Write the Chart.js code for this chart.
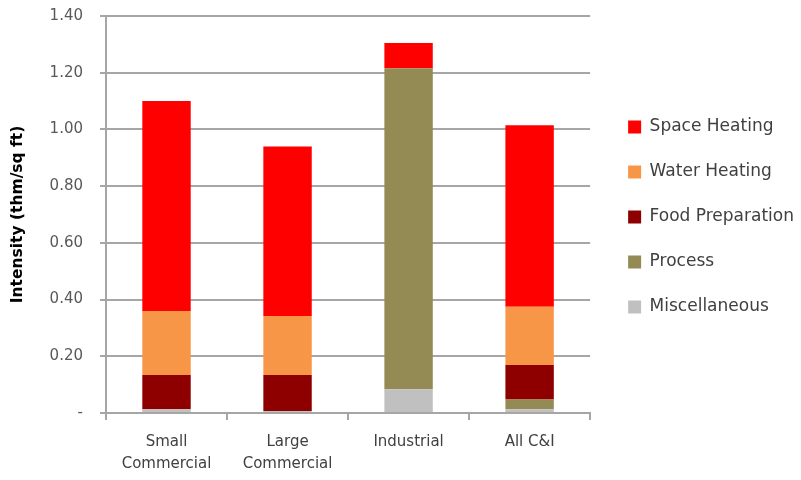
<!DOCTYPE html>
<html>
<head>
<meta charset="utf-8">
<script src="https://cdn.jsdelivr.net/npm/chart.js@4/dist/chart.umd.min.js"></script>
<style>
  html, body { margin: 0; padding: 0; background: #fff; }
  #wrap { width: 801px; height: 480px; }
</style>
</head>
<body>
<div id="wrap"><canvas id="c" width="801" height="480"></canvas></div>
<script>
const categories = [['Small', 'Commercial'], ['Large', 'Commercial'], 'Industrial', 'All C&I'];
const miscellaneous = [0.013, 0.007, 0.084, 0.013];
const process = [0, 0, 1.132, 0.035];
const foodPreparation = [0.121, 0.127, 0, 0.121];
const waterHeating = [0.226, 0.208, 0, 0.206];
const spaceHeating = [0.740, 0.598, 0.089, 0.640];
const yTicks = [0, 0.2, 0.4, 0.6, 0.8, 1.0, 1.2, 1.4];

const FONT = '"DejaVu Sans", sans-serif';
const TEXT = '#404040';
const GRID = '#a6a6a6';

new Chart(document.getElementById('c'), {
  type: 'bar',
  data: {
    labels: categories,
    datasets: [
      { label: 'Miscellaneous', data: miscellaneous, backgroundColor: '#C0C0C0' },
      { label: 'Process', data: process, backgroundColor: '#948A54' },
      { label: 'Food Preparation', data: foodPreparation, backgroundColor: '#8E0000' },
      { label: 'Water Heating', data: waterHeating, backgroundColor: '#F79646' },
      { label: 'Space Heating', data: spaceHeating, backgroundColor: '#FF0000' }
    ]
  },
  options: {
    responsive: false,
    animation: false,
    layout: { padding: { top: 16, left: 0, right: -3, bottom: 0 } },
    datasets: { bar: { categoryPercentage: 1.0, barPercentage: 0.4, borderWidth: 0 } },
    plugins: {
      tooltip: { enabled: false },
      legend: {
        position: 'right',
        fullSize: false,
        reverse: true,
        maxWidth: 260,
        title: { display: true, text: ' ', font: { size: 4, lineHeight: 1.25 }, padding: 0 },
        labels: {
          boxWidth: 13,
          boxHeight: 13,
          padding: 28,
          color: TEXT,
          font: { family: FONT, size: 17 }
        }
      }
    },
    scales: {
      x: {
        stacked: true,
        afterFit: (s) => { s.height = 67; },
        grid: { offset: true, drawOnChartArea: false, drawTicks: true, tickLength: 7, color: GRID, lineWidth: 2 },
        border: { color: GRID, width: 2 },
        ticks: { color: TEXT, font: { family: FONT, size: 15, lineHeight: 1.45 }, padding: 11, maxRotation: 0 }
      },
      y: {
        stacked: true,
        min: 0,
        max: 1.4,
        afterBuildTicks: (s) => { s.ticks = yTicks.map(v => ({ value: v })); },
        afterFit: (s) => { s.width = 106; s.paddingTop = 0; s.paddingBottom = 0; },
        grid: { color: GRID, lineWidth: 2, tickLength: 6 },
        border: { color: GRID, width: 2 },
        ticks: {
          color: '#595959',
          font: { family: FONT, size: 15 },
          padding: 17,
          callback: (v) => v === 0 ? '-' : Number(v).toFixed(2)
        },
        title: {
          display: true,
          text: 'Intensity (thm/sq ft)',
          color: '#000',
          font: { family: FONT, size: 15.5, weight: 'bold' },
          padding: { top: 9, bottom: 0 }
        }
      },
      y2: {
        position: 'right',
        display: true,
        grid: { display: false },
        border: { display: false },
        ticks: { display: false },
        afterFit: (s) => { s.width = 10; s.paddingTop = 0; s.paddingBottom = 0; }
      }
    }
  }
});
</script>
</body>
</html>
